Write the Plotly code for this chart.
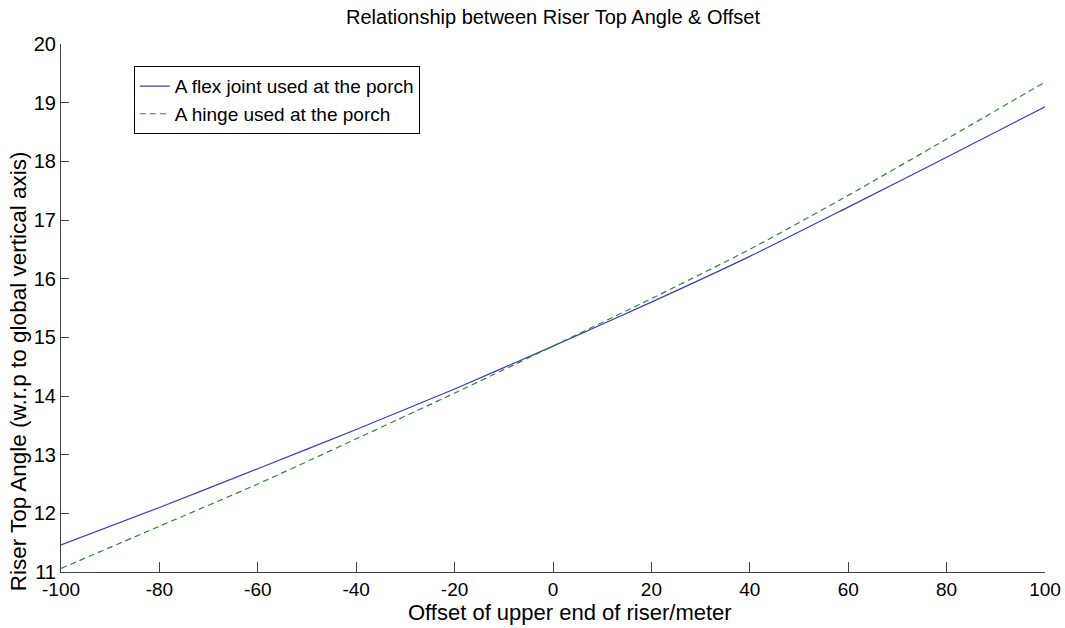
import plotly.graph_objects as go

offset = [-100, -80, -60, -40, -20, 0, 20, 40, 60, 80, 100]
flex_joint = [11.46, 12.10, 12.76, 13.43, 14.12, 14.85, 15.60, 16.38, 17.22, 18.07, 18.93]
hinge = [11.06, 11.78, 12.50, 13.27, 14.05, 14.85, 15.66, 16.50, 17.42, 18.38, 19.35]

x_ticks = [-100, -80, -60, -40, -20, 0, 20, 40, 60, 80, 100]
y_ticks = [11, 12, 13, 14, 15, 16, 17, 18, 19, 20]

FONT = "Liberation Sans, Arial, sans-serif"

fig = go.Figure()
fig.add_trace(go.Scatter(x=offset, y=flex_joint, mode="lines", name="A flex joint used at the porch",
                         line=dict(color="#3c3cb4", width=1.2, shape="spline", smoothing=0.6)))
fig.add_trace(go.Scatter(x=offset, y=hinge, mode="lines", name="A hinge used at the porch",
                         line=dict(color="#2e8b2e", width=1.2, dash="6px,4px", shape="spline", smoothing=0.6)))

fig.update_layout(
    width=1065, height=628,
    margin=dict(l=61, r=20, t=44, b=56, autoexpand=False),
    paper_bgcolor="white", plot_bgcolor="white",
    font=dict(family=FONT, size=19, color="black"),
    showlegend=True,
    legend=dict(x=0.074, y=0.958, xanchor="left", yanchor="top",
                bgcolor="white", bordercolor="black", borderwidth=1,
                font=dict(size=19), tracegroupgap=0, itemwidth=30),
    xaxis=dict(range=[-100, 100], tickvals=x_ticks, ticktext=[str(v) for v in x_ticks],
               ticks="inside", ticklen=10, tickcolor="#444", showline=True, linecolor="#444",
               linewidth=1, showgrid=False, zeroline=False, tickfont=dict(size=19),
               automargin=False),
    yaxis=dict(range=[11, 20], tickvals=y_ticks, ticktext=[str(v) for v in y_ticks],
               ticks="inside", ticklen=8, tickcolor="#444", showline=True, linecolor="#444",
               linewidth=1, showgrid=False, zeroline=False, tickfont=dict(size=20),
               automargin=False),
    annotations=[
        dict(text="Relationship between Riser Top Angle &amp; Offset", xref="paper", yref="paper",
             x=0.5, y=1, yshift=27, xanchor="center", yanchor="middle", showarrow=False,
             font=dict(size=20)),
        dict(text="Offset of upper end of riser/meter", xref="paper", yref="paper",
             x=0.517, y=0, yshift=-40, xanchor="center", yanchor="middle", showarrow=False,
             font=dict(size=22)),
        dict(text="Riser Top Angle (w.r.p to global vertical axis)", xref="paper", yref="paper",
             x=0, y=0.38, xshift=-43, xanchor="center", yanchor="middle", showarrow=False,
             textangle=-90, font=dict(size=22.5)),
    ],
)

fig.write_html("out.html")
